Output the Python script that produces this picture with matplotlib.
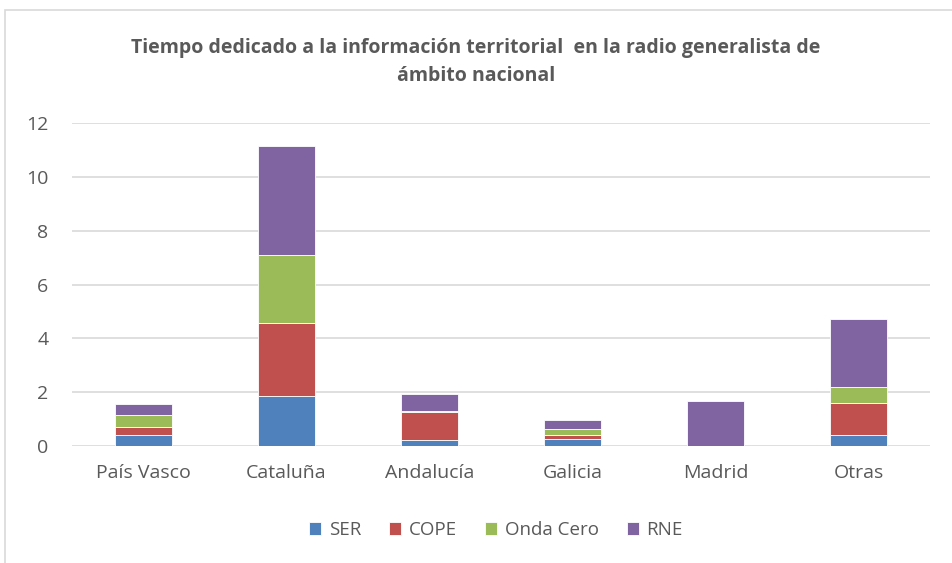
import matplotlib
matplotlib.use("Agg")
import matplotlib.pyplot as plt
import numpy as np
from matplotlib.patches import Rectangle

# Data
categories = ["País Vasco", "Cataluña", "Andalucía", "Galicia", "Madrid", "Otras"]
series_names = ["SER", "COPE", "Onda Cero", "RNE"]
ser = [0.41, 1.86, 0.22, 0.27, 0.0, 0.42]
cope = [0.31, 2.71, 1.03, 0.15, 0.0, 1.19]
onda_cero = [0.43, 2.52, 0.05, 0.21, 0.0, 0.59]
rne = [0.41, 4.05, 0.62, 0.34, 1.66, 2.52]
yticks = [0, 2, 4, 6, 8, 10, 12]

colors = ["#4F81BD", "#C0504D", "#9BBB59", "#8064A2"]
text_color = "#595959"

plt.rcParams["font.family"] = ["Open Sans", "DejaVu Sans"]

fig = plt.figure(figsize=(9.52, 5.63), dpi=100)
ax = fig.add_axes([72 / 952, 1 - 446 / 563, 858 / 952, (446 - 123) / 563])

x = np.arange(len(categories))
bottom = np.zeros(len(categories))
for name, vals, col in zip(series_names, [ser, cope, onda_cero, rne], colors):
    vals = np.array(vals)
    ax.bar(x, vals, width=0.4, bottom=bottom, color=col, edgecolor="white",
           linewidth=0.6, label=name, zorder=3)
    bottom += vals

ax.set_xlim(-0.5, len(categories) - 0.5)
ax.set_ylim(0, 12)
ax.set_yticks(yticks)
ax.set_xticks(x)
ax.set_xticklabels(categories)
ax.tick_params(axis="both", length=0, colors=text_color, labelsize=14)
ax.tick_params(axis="x", pad=13)
ax.tick_params(axis="y", pad=17)
ax.grid(axis="y", color="#D9D9D9", linewidth=1.2, zorder=0)
for sp in ax.spines.values():
    sp.set_visible(False)

fig.text(0.5, 1 - 62 / 563, "Tiempo dedicado a la información territorial  en la radio generalista de\námbito nacional",
         ha="center", va="center", fontsize=14, fontweight="bold", color=text_color,
         linespacing=1.5)

leg = fig.legend(loc="center", bbox_to_anchor=(496 / 952, 1 - 530 / 563), ncol=4, frameon=False,
                 fontsize=13.5, handlelength=0.65, handleheight=0.65, handletextpad=0.4,
                 columnspacing=1.5)
for t in leg.get_texts():
    t.set_color(text_color)

# light chart border, as in the original spreadsheet export
fig.patches.append(Rectangle((5 / 952, -0.01), 1.0, 1 - 10 / 563 + 0.01, transform=fig.transFigure,
                             fill=False, edgecolor="#D9D9D9", linewidth=1.2))

fig.savefig("out.png", dpi=100)
